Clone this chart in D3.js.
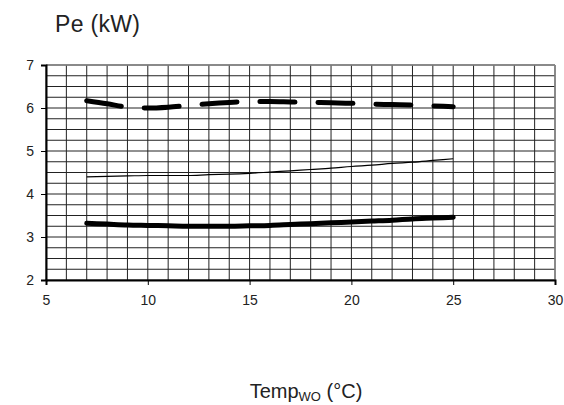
<!DOCTYPE html>
<html>
<head>
<meta charset="utf-8">
<script src="https://cdn.jsdelivr.net/npm/d3@7"></script>
<style>
  html, body { margin: 0; padding: 0; background: #fff; }
  svg { display: block; }
  text { font-family: "Liberation Sans", Arial, sans-serif; fill: #222; }
</style>
</head>
<body>
<svg id="chart" width="564" height="405"></svg>
<script>
// ---- data ----
const temps = [7, 8, 9, 10, 11, 12, 13, 14, 15, 16, 17, 18, 19, 20, 21, 22, 23, 24, 25];
const peDashed = [6.17, 6.10, 6.02, 6.00, 6.02, 6.06, 6.10, 6.13, 6.15, 6.15, 6.14, 6.13, 6.12, 6.11, 6.09, 6.08, 6.07, 6.05, 6.03];
const peThin   = [4.40, 4.41, 4.42, 4.43, 4.43, 4.43, 4.45, 4.46, 4.48, 4.51, 4.54, 4.57, 4.60, 4.64, 4.67, 4.71, 4.74, 4.78, 4.82];
const peThick  = [3.32, 3.30, 3.28, 3.27, 3.26, 3.25, 3.25, 3.25, 3.26, 3.27, 3.29, 3.31, 3.33, 3.35, 3.37, 3.39, 3.42, 3.44, 3.46];
const xTicks = [5, 10, 15, 20, 25, 30];
const yTicks = [2, 3, 4, 5, 6, 7];
const xDomain = [5, 30];
const yDomain = [2, 7];
const titleText = "Pe (kW)";

// ---- layout ----
const svg = d3.select("#chart");
const L = 46, R = 555, T = 65, B = 280;
const x = d3.scaleLinear().domain(xDomain).range([L, R]);
const y = d3.scaleLinear().domain(yDomain).range([B, T]);

// grid
const g = svg.append("g");
const xMinor = d3.range(xDomain[0], xDomain[1] + 0.001, 1);
const yMinor = d3.range(yDomain[0], yDomain[1] + 0.001, 0.25);
g.selectAll("line.vx").data(xMinor).join("line")
  .attr("x1", d => x(d)).attr("x2", d => x(d))
  .attr("y1", T).attr("y2", B)
  .attr("stroke", "#222").attr("stroke-width", 1);
g.selectAll("line.hy").data(yMinor).join("line")
  .attr("x1", L).attr("x2", R)
  .attr("y1", d => y(d)).attr("y2", d => y(d))
  .attr("stroke", "#222").attr("stroke-width", 1);
// top/right frame gray
svg.append("line").attr("x1", L).attr("x2", R).attr("y1", T).attr("y2", T).attr("stroke", "#888").attr("stroke-width", 1.5);
svg.append("line").attr("x1", R).attr("x2", R).attr("y1", T).attr("y2", B).attr("stroke", "#888").attr("stroke-width", 1.5);

// axes
const xAxis = d3.axisBottom(x).tickValues(xTicks).tickSize(5).tickPadding(10).tickFormat(d3.format("d"));
const yAxis = d3.axisLeft(y).tickValues(yTicks).tickSize(5).tickPadding(7).tickFormat(d3.format("d"));
const gx = svg.append("g").attr("transform", `translate(0,${B})`).call(xAxis);
const gy = svg.append("g").attr("transform", `translate(${L},0)`).call(yAxis);
[gx, gy].forEach(a => {
  a.select(".domain").attr("stroke", "#000").attr("stroke-width", 2);
  a.selectAll(".tick line").attr("stroke", "#000").attr("stroke-width", 1);
  a.selectAll(".tick text").attr("font-size", 14).attr("font-family", "Liberation Sans, Arial, sans-serif").attr("fill", "#222");
});

// lines
const line = (vals) => d3.line().x((d, i) => x(temps[i])).y(d => y(d)).curve(d3.curveMonotoneX)(vals);
svg.append("path").attr("d", line(peThin)).attr("fill", "none").attr("stroke", "#000").attr("stroke-width", 1.2);
svg.append("path").attr("d", line(peThick)).attr("fill", "none").attr("stroke", "#000").attr("stroke-width", 5).attr("stroke-linecap", "round");
svg.append("path").attr("d", line(peDashed)).attr("fill", "none").attr("stroke", "#000").attr("stroke-width", 5)
  .attr("stroke-linecap", "round").attr("stroke-dasharray", "35,23");

// title
svg.append("text").attr("x", 55).attr("y", 32).attr("font-size", 23).attr("letter-spacing", 0.3).text(titleText);

// x label with subscript
const xl = svg.append("text").attr("x", 306).attr("y", 398).attr("text-anchor", "middle").attr("font-size", 20);
xl.append("tspan").text("Temp");
xl.append("tspan").attr("font-size", 13).attr("dy", 3).text("WO");
xl.append("tspan").attr("dy", -3).text(" (°C)");
</script>
</body>
</html>
